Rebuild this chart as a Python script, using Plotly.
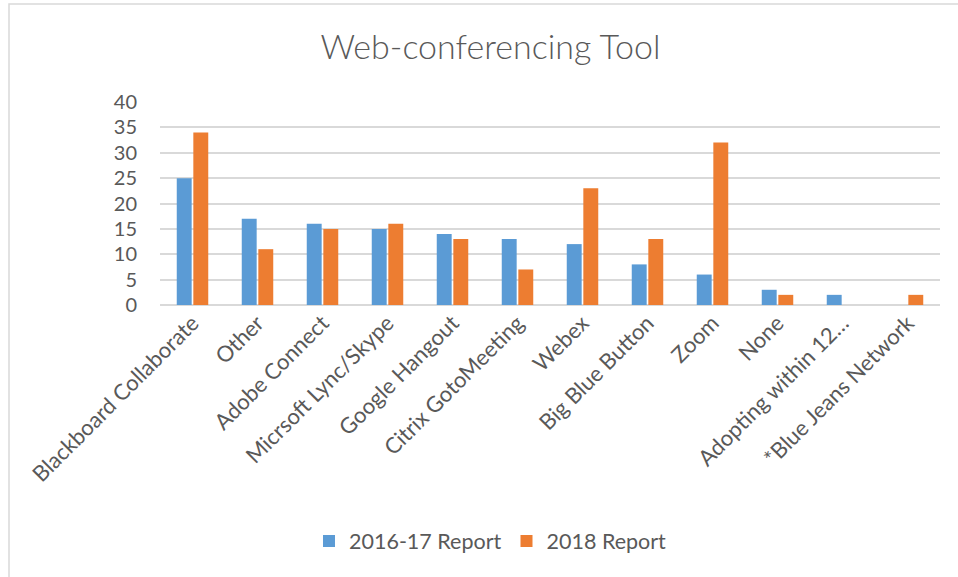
import plotly.graph_objects as go

categories = ["Blackboard Collaborate", "Other", "Adobe Connect", "Micrsoft Lync/Skype",
              "Google Hangout", "Citrix GotoMeeting", "Webex", "Big Blue Button", "Zoom",
              "None", "Adopting within 12…", "*Blue Jeans Network"]
report_2016_17 = [25, 17, 16, 15, 14, 13, 12, 8, 6, 3, 2, 0]
report_2018 = [34, 11, 15, 16, 13, 7, 23, 13, 32, 2, 0, 2]

FONT = "Lato"
GREY = "#595959"

fig = go.Figure()
fig.add_trace(go.Bar(name="2016-17 Report", x=categories, y=report_2016_17,
                     marker=dict(color="#5B9BD5", line=dict(width=0))))
fig.add_trace(go.Bar(name="2018 Report", x=categories, y=report_2018,
                     marker=dict(color="#ED7D31", line=dict(width=0))))

W, H = 958, 577
L, R, T, B = 160, 18, 102, 272
pw, ph = W - L - R, H - T - B

fig.update_layout(
    width=W, height=H,
    margin=dict(l=L, r=R, t=T, b=B, autoexpand=False),
    paper_bgcolor="white", plot_bgcolor="white",
    barmode="group", bargap=0.49, bargroupgap=0.1,
    font=dict(family=FONT, color=GREY, size=20),
    title=dict(text="Web-conferencing Tool", x=0.512, xref="container", xanchor="center",
               y=1 - 47 / H, yref="container", yanchor="middle",
               font=dict(family=FONT, size=34, color=GREY, weight=300)),
    xaxis=dict(tickangle=-45, tickfont=dict(size=22, color=GREY), showgrid=False,
               showline=False, ticks="", zeroline=False, automargin=False),
    yaxis=dict(range=[0, 40], dtick=5, tickfont=dict(size=20, color=GREY),
               showgrid=True, gridcolor="#D9D9D9", gridwidth=2, zeroline=True,
               zerolinecolor="#D9D9D9", zerolinewidth=2, showline=False, ticks="",
               ticklabelstandoff=22, automargin=False),
    legend=dict(orientation="h", x=0.512, xref="container", xanchor="center",
                y=1 - 541 / H, yref="container", yanchor="middle",
                font=dict(size=21.5, color=GREY), traceorder="normal",
                itemwidth=30),
    shapes=[dict(type="rect", xref="paper", yref="paper",
                 x0=(9 - L) / pw, x1=(W + 20 - L) / pw,
                 y0=-(H + 20 - T - ph) / ph, y1=1 + (T - 4) / ph,
                 line=dict(color="#D9D9D9", width=1.5), fillcolor="rgba(0,0,0,0)",
                 layer="below")],
)

fig.write_html("out.html",
               config={"displayModeBar": False},
               post_script="document.body.style.margin='0';document.body.style.overflow='hidden';")
